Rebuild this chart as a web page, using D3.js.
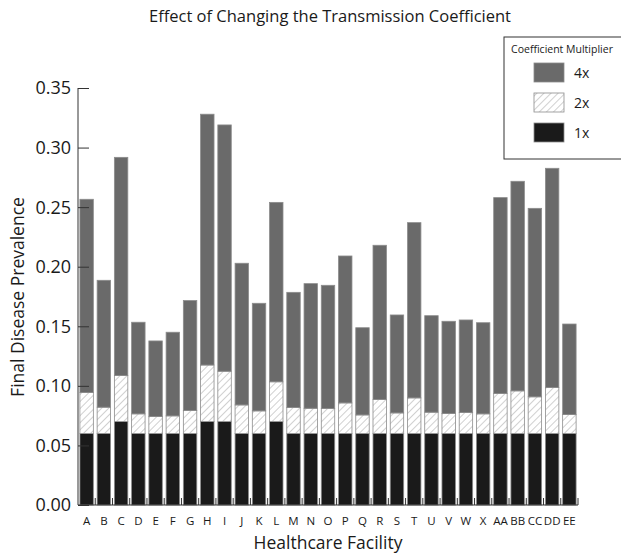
<!DOCTYPE html>
<html>
<head>
<meta charset="utf-8">
<script src="https://cdn.jsdelivr.net/npm/d3@7"></script>
<style>
  body { margin: 0; background: #fff; }
  text { font-family: "Open Sans", "Noto Sans", sans-serif; fill: #1a1a1a; }
</style>
</head>
<body>
<svg id="chart"></svg>
<script>
// facilities and the three stacked layers (cumulative tops)
const facilities = ["A","B","C","D","E","F","G","H","I","J","K","L","M","N","O",
                    "P","Q","R","S","T","U","V","W","X","AA","BB","CC","DD","EE"];
const top1x = [0.06,0.06,0.07,0.06,0.06,0.06,0.06,0.07,0.07,0.06,0.06,0.07,0.06,0.06,0.06,
               0.06,0.06,0.06,0.06,0.06,0.06,0.06,0.06,0.06,0.06,0.06,0.06,0.06,0.06];
const top2x = [0.0944,0.0821,0.1087,0.0765,0.0742,0.0748,0.0793,0.1175,0.1123,0.0840,0.0790,0.1034,0.0818,0.0812,0.0810,
               0.0857,0.0756,0.0885,0.0773,0.0899,0.0779,0.0768,0.0776,0.0765,0.0936,0.0958,0.0908,0.0986,0.0759];
const top4x = [0.2566,0.1886,0.2918,0.1534,0.1377,0.1450,0.1716,0.3280,0.3190,0.2029,0.1693,0.2540,0.1785,0.1858,0.1844,
               0.2090,0.1488,0.2180,0.1595,0.2370,0.1589,0.1542,0.1553,0.1530,0.2580,0.2717,0.2490,0.2826,0.1519];
const yTicks = [0, 0.05, 0.10, 0.15, 0.20, 0.25, 0.30, 0.35];
const legendItems = ["4x", "2x", "1x"];

const width = 621, height = 553;
const svg = d3.select("#chart").attr("width", width).attr("height", height);

const defs = svg.append("defs");
const hatch = defs.append("pattern")
    .attr("id", "hatch")
    .attr("patternUnits", "userSpaceOnUse")
    .attr("width", 5).attr("height", 5)
    .attr("patternTransform", "rotate(45)");
hatch.append("rect").attr("width", 5).attr("height", 5).attr("fill", "#fff");
hatch.append("line").attr("x1", 0).attr("y1", 0).attr("x2", 0).attr("y2", 5)
    .attr("stroke", "#8a8a8a").attr("stroke-width", 0.8);

const x = d3.scaleBand()
    .domain(facilities)
    .range([78, 578])
    .paddingInner(0.22)
    .paddingOuter(0.11);

const y = d3.scaleLinear()
    .domain([0, 0.35])
    .range([505, 88]);

// layers: bottom, top, fill
const layers = [
  { lo: () => 0, hi: i => top1x[i], fill: "#1a1a1a" },
  { lo: i => top1x[i], hi: i => top2x[i], fill: "url(#hatch)" },
  { lo: i => top2x[i], hi: i => top4x[i], fill: "#6a6a6a" }
];

layers.forEach(layer => {
  svg.append("g").selectAll("rect")
    .data(facilities)
    .join("rect")
    .attr("x", d => x(d))
    .attr("width", x.bandwidth())
    .attr("y", (d, i) => y(layer.hi(i)))
    .attr("height", (d, i) => y(layer.lo(i)) - y(layer.hi(i)))
    .attr("fill", layer.fill)
    .attr("stroke", "#8c8c8c")
    .attr("stroke-width", 0.8);
});

// y axis (ticks point inward)
const yAxis = svg.append("g").attr("transform", "translate(78,0)")
    .call(d3.axisRight(y).tickValues(yTicks).tickSize(11).tickFormat(""));
yAxis.select(".domain").attr("stroke", "#333").attr("d", "M0,88V505");
yAxis.selectAll(".tick line").attr("stroke", "#333");

svg.append("g").selectAll("text")
  .data(yTicks)
  .join("text")
  .attr("x", 71)
  .attr("y", d => y(d))
  .attr("dy", "0.36em")
  .attr("text-anchor", "end")
  .attr("font-size", 18)
  .text(d => d.toFixed(2));

// x axis, small ticks between bands
svg.append("line")
  .attr("x1", 78).attr("x2", 578).attr("y1", 505).attr("y2", 505)
  .attr("stroke", "#333");
svg.append("g").selectAll("line")
  .data(facilities)
  .join("line")
  .attr("x1", d => x(d) + x.bandwidth() + x.step() * x.paddingInner() / 2)
  .attr("x2", d => x(d) + x.bandwidth() + x.step() * x.paddingInner() / 2)
  .attr("y1", 505).attr("y2", 498)
  .attr("stroke", "#333");

svg.append("g").selectAll("text")
  .data(facilities)
  .join("text")
  .attr("x", d => x(d) + x.bandwidth() / 2)
  .attr("y", 525)
  .attr("text-anchor", "middle")
  .attr("font-size", 11.5)
  .text(d => d);

// titles
svg.append("text")
  .attr("x", 330).attr("y", 22)
  .attr("text-anchor", "middle")
  .attr("font-size", 16.5)
  .text("Effect of Changing the Transmission Coefficient");

svg.append("text")
  .attr("x", 328).attr("y", 549)
  .attr("text-anchor", "middle")
  .attr("font-size", 17.5)
  .text("Healthcare Facility");

svg.append("text")
  .attr("transform", "translate(24,297) rotate(-90)")
  .attr("text-anchor", "middle")
  .attr("font-size", 17.5)
  .text("Final Disease Prevalence");

// legend
const legend = svg.append("g");
legend.append("rect")
  .attr("x", 504).attr("y", 37).attr("width", 118).attr("height", 122)
  .attr("fill", "#fff").attr("stroke", "#333");
legend.append("text")
  .attr("x", 562).attr("y", 53)
  .attr("text-anchor", "middle")
  .attr("font-size", 10.5)
  .text("Coefficient Multiplier");
const legendFills = ["#6a6a6a", "url(#hatch)", "#1a1a1a"];
legendItems.forEach((lab, i) => {
  const yy = 63 + i * 30;
  legend.append("rect")
    .attr("x", 534).attr("y", yy).attr("width", 30).attr("height", 19)
    .attr("fill", legendFills[i]).attr("stroke", "#8c8c8c").attr("stroke-width", 0.8);
  legend.append("text")
    .attr("x", 574).attr("y", yy + 10)
    .attr("dy", "0.36em")
    .attr("font-size", 14)
    .text(lab);
});
</script>
</body>
</html>
